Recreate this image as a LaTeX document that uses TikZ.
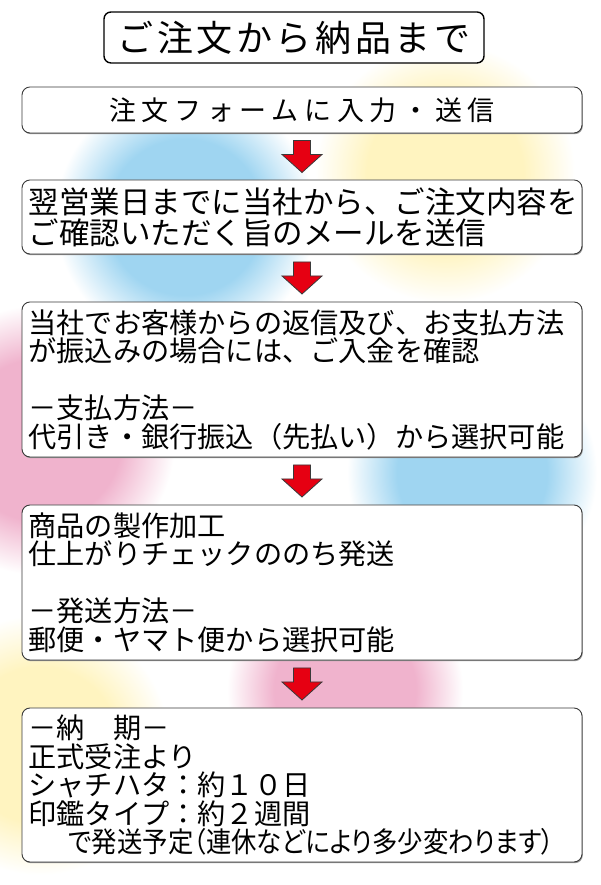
\documentclass[tikz,border=0pt]{standalone}
\usepackage{fontspec}
\usepackage{graphicx}
\setmainfont{Noto Sans CJK JP}
\newfontfamily\jpprop[RawFeature=+palt]{Noto Sans CJK JP}
\usetikzlibrary{calc,shadows}
\definecolor{frame}{HTML}{3A3A3A}
\definecolor{arrowred}{HTML}{E60012}
\definecolor{skyblob}{HTML}{9FD5F1}
\definecolor{lemonblob}{HTML}{FFF4C0}
\definecolor{pinkblob}{HTML}{F0B3CD}
\pgfdeclareradialshading{skyshade}{\pgfpoint{0bp}{0bp}}{color(0bp)=(skyblob); color(15bp)=(skyblob); color(25bp)=(white); color(50bp)=(white)}
\pgfdeclareradialshading{lemonshade}{\pgfpoint{0bp}{0bp}}{color(0bp)=(lemonblob); color(15bp)=(lemonblob); color(25bp)=(white); color(50bp)=(white)}
\pgfdeclareradialshading{pinkshade}{\pgfpoint{0bp}{0bp}}{color(0bp)=(pinkblob); color(15bp)=(pinkblob); color(25bp)=(white); color(50bp)=(white)}
\begin{document}
\begin{tikzpicture}[
  x=1pt,y=1pt,
  font=\fontsize{28.2}{28.5}\selectfont,
  title/.style={draw=black,line width=1.4pt,rounded corners=7pt,fill=white,
    minimum width=380pt,minimum height=51pt,inner sep=0pt,
    font=\fontsize{36}{36}\selectfont\addfontfeature{LetterSpace=10}},
  stepbox/.style={draw=frame,line width=0.9pt,rounded corners=8pt,fill=white,
    minimum width=560pt,inner sep=0pt,
    drop shadow={shadow xshift=0.8pt,shadow yshift=-1.2pt,fill=black!40,opacity=1}},
  body/.style={stepbox,text width=547pt,align=left},
  downarrow/.pic={
    \filldraw[draw=frame,line width=0.8pt,fill=arrowred,line join=miter]
      (-8.5,16) -- (8.5,16) -- (8.5,2) -- (20,2) -- (0,-16) -- (-20,2) -- (-8.5,2) -- cycle;}
]
\fill[white] (0,0) rectangle (600,885);
\useasboundingbox (0,0) rectangle (600,885);

% soft colour patches
\shade[shading=skyshade] (185,668) circle (130pt);
\shade[shading=lemonshade] (445,712) circle (130pt);
\shade[shading=pinkshade] (40,445) circle (135pt);
\shade[shading=skyshade] (472,412) circle (125pt);
\shade[shading=pinkshade] (345,195) circle (118pt);
\shade[shading=lemonshade] (40,140) circle (130pt);

% title
\node[title] (head) at (294,847.5) {ご注文から納品まで};

% steps
\node[stepbox,minimum height=46pt,font=\fontsize{27}{27}\selectfont\addfontfeature{LetterSpace=21}]
  (b1) at (302,775) {注文フォームに入力・送信};
\node[body,minimum height=74pt,font=\fontsize{30.5}{31}\selectfont]
  (b2) at (302,668) {翌営業日までに当社から、ご注文内容を\\ご確認いただく旨のメールを送信};
\node[body,minimum height=155pt]
  (b3) at (302,505.5) {当社でお客様からの返信及び、お支払方法\\が振込みの場合には、ご入金を確認\\[28.5pt]－支払方法－\\代引き・銀行振込（先払い）から選択可能};
\node[body,minimum height=155pt]
  (b4) at (302,302.5) {商品の製作加工\\仕上がりチェックののち発送\\[28.5pt]－発送方法－\\郵便・ヤマト便から選択可能};
\node[body,minimum height=154pt]
  (b5) at (302,100) {－納　期－\\正式受注より\\シャチハタ：約１０日\\印鑑タイプ：約２週間\\\hspace*{40pt}\scalebox{0.9}[1]{\jpprop で発送予定（連休などにより多少変わります）}};

% arrows
\foreach \a/\b in {b1/b2,b2/b3,b3/b4,b4/b5}
  \pic (\a\b) at ($(\a.south)!.5!(\b.north)$) {downarrow};
\end{tikzpicture}
\end{document}
